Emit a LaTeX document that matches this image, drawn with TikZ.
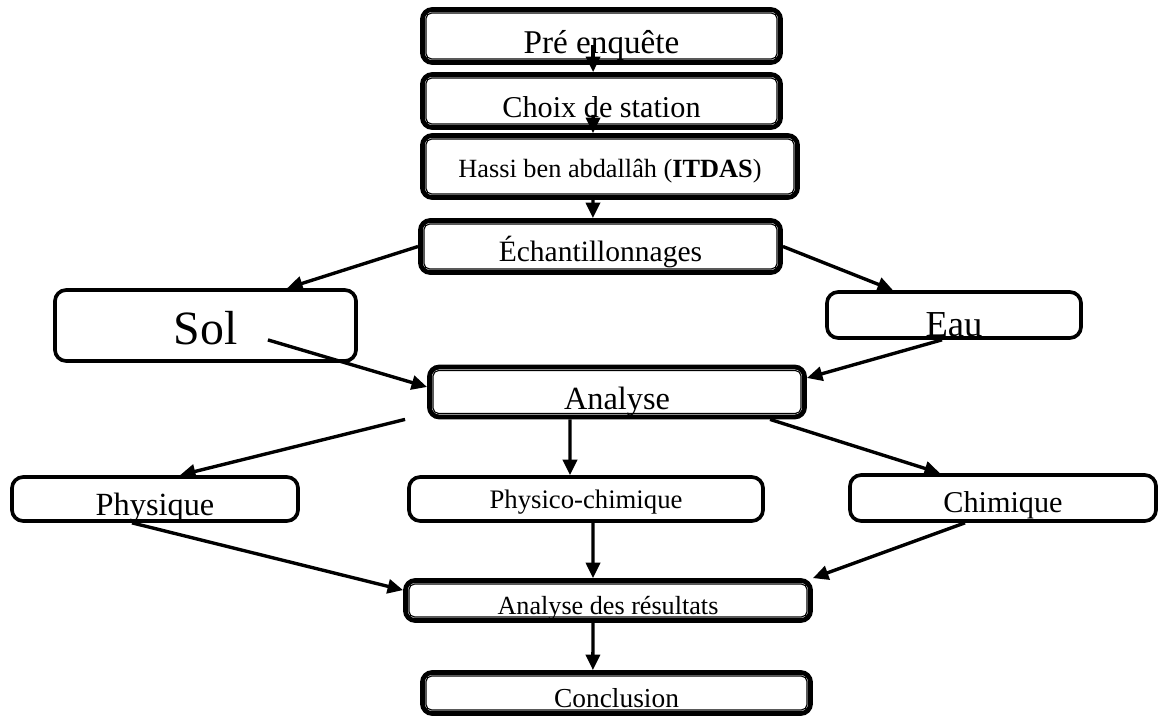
\documentclass[tikz,border=0pt]{standalone}
\usepackage{fontspec}
\setmainfont{Liberation Serif}
\usetikzlibrary{arrows.meta}

\tikzset{
  dbox/.style={draw, line width=3.4pt, rounded corners=7pt, inner sep=0pt},
  sbox/.style={draw, line width=2.6pt, rounded corners=8pt, inner sep=0pt},
  txt/.style={text height=#1, text depth=0pt},
  arr/.style={line width=2.4pt, -{Triangle[length=11pt,width=10pt]}}
}

\begin{document}
\begin{tikzpicture}[x=0.025cm, y=-0.025cm]
  \useasboundingbox (0,0) rectangle (1160,717);

  % main column, top part
  \node[dbox, minimum width=8.95cm, minimum height=1.325cm, txt=24.2pt, font=\fontsize{23.6}{28}\selectfont] (pre) at (601.5,36) {Pré enquête};
  \node[dbox, minimum width=8.95cm, minimum height=1.325cm, txt=22.8pt, font=\fontsize{21.5}{26}\selectfont] (choix) at (601.5,101) {Choix de station};
  \node[dbox, minimum width=9.375cm, minimum height=1.55cm, txt=15.6pt, font=\fontsize{18.7}{22}\selectfont] (hassi) at (610,166.5) {Hassi ben abdallâh (\textbf{ITDAS})};
  \node[dbox, minimum width=9cm, minimum height=1.3cm, txt=22pt, font=\fontsize{21}{25}\selectfont] (echant) at (600.5,246.5) {Échantillonnages};

  % sampled media
  \node[sbox, minimum width=7.525cm, minimum height=1.775cm, txt=27.7pt, font=\fontsize{34}{40}\selectfont] (sol) at (205.5,325.5) {Sol};
  \node[sbox, minimum width=6.35cm, minimum height=1.15cm, txt=29.9pt, font=\fontsize{26}{30}\selectfont] (eau) at (954,315) {Eau};

  \node[dbox, minimum width=9.375cm, minimum height=1.25cm, txt=24.9pt, font=\fontsize{23}{27}\selectfont] (ana) at (617,392) {Analyse};

  % kinds of analysis
  \node[sbox, minimum width=7.15cm, minimum height=1.1cm, txt=22.8pt, font=\fontsize{23}{27}\selectfont] (phys) at (155,499) {Physique};
  \node[sbox, minimum width=8.85cm, minimum height=1.1cm, txt=14.2pt, font=\fontsize{19}{23}\selectfont] (physchim) at (586,499) {Physico-chimique};
  \node[sbox, minimum width=7.65cm, minimum height=1.15cm, txt=21.3pt, font=\fontsize{21.5}{26}\selectfont] (chim) at (1003,498) {Chimique};

  \node[dbox, minimum width=10.125cm, minimum height=1cm, txt=20.6pt, font=\fontsize{18.6}{22}\selectfont] (adr) at (608,600.5) {Analyse des résultats};
  \node[dbox, minimum width=9.7cm, minimum height=1.025cm, txt=20pt, font=\fontsize{19.5}{23}\selectfont] (concl) at (616.5,693) {Conclusion};

  % inner line of the double boxes
  \foreach \n in {pre,choix,hassi,echant,ana,adr,concl}
    \draw[line width=0.8pt, rounded corners=4pt] ([shift={(4.2pt,-4.2pt)}]\n.north west) rectangle ([shift={(-4.2pt,4.2pt)}]\n.south east);

  % arrows
  \draw[arr] ([xshift=-0.21cm,yshift=0.5cm]pre.south) -- ([xshift=-0.21cm]choix.north);
  \draw[arr] ([xshift=-0.21cm,yshift=0.375cm]choix.south) -- ([xshift=-0.425cm]hassi.north);
  \draw[arr] ([xshift=-0.425cm]hassi.south) -- ([xshift=-0.19cm]echant.north);
  \draw[arr] (echant.west) -- ([xshift=2.04cm]sol.north);
  \draw[arr] (echant.east) -- ([xshift=-1.525cm]eau.north);
  \draw[arr] ([xshift=1.56cm,yshift=-0.36cm]sol.center) -- ([yshift=0.125cm]ana.west);
  \draw[arr] ([xshift=-0.3cm]eau.south) -- ([yshift=0.35cm]ana.east);
  \draw[arr] ([xshift=-0.55cm]ana.south west) -- ([xshift=0.625cm]phys.north);
  \draw[arr] ([xshift=-1.175cm]ana.south) -- ([xshift=-0.4cm]physchim.north);
  \draw[arr] ([xshift=3.825cm]ana.south) -- ([xshift=-1.575cm]chim.north);
  \draw[arr] ([xshift=-0.575cm]phys.south) -- ([yshift=0.26cm]adr.west);
  \draw[arr] ([xshift=0.175cm]physchim.south) -- ([xshift=-0.375cm]adr.north);
  \draw[arr] ([xshift=-0.95cm]chim.south) -- (adr.north east);
  \draw[arr] ([xshift=-0.375cm]adr.south) -- ([xshift=-0.59cm]concl.north);
\end{tikzpicture}
\end{document}
